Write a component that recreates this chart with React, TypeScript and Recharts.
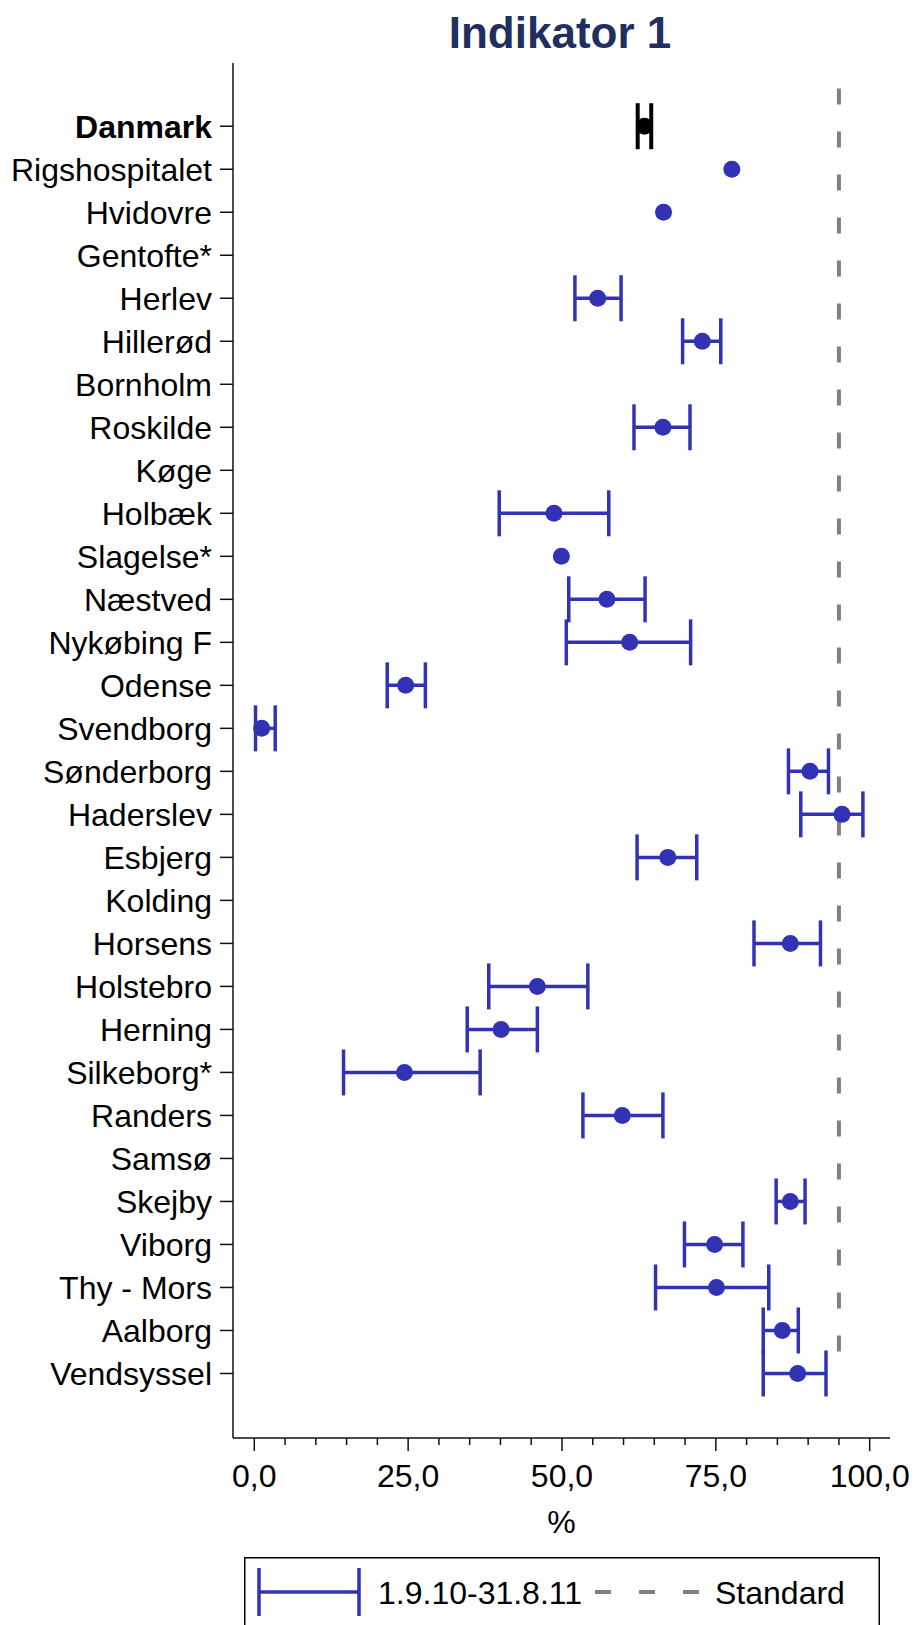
import { ComposedChart, Scatter, XAxis, YAxis, ErrorBar, ReferenceLine, Legend } from "recharts";

// Sygehuse, øverst til nederst (række 0 = landstal)
const hospitals = [
  "Danmark", "Rigshospitalet", "Hvidovre", "Gentofte*", "Herlev", "Hillerød",
  "Bornholm", "Roskilde", "Køge", "Holbæk", "Slagelse*", "Næstved",
  "Nykøbing F", "Odense", "Svendborg", "Sønderborg", "Haderslev", "Esbjerg",
  "Kolding", "Horsens", "Holstebro", "Herning", "Silkeborg*", "Randers",
  "Samsø", "Skejby", "Viborg", "Thy - Mors", "Aalborg", "Vendsyssel",
];

// Andel i %, null = ingen opgørelse
const estimates = [
  63.4, 77.6, 66.5, null, 55.8, 72.8, null, 66.4, null, 48.7, 49.9, 57.3,
  61.0, 24.6, 1.2, 90.3, 95.5, 67.2, null, 87.1, 46.0, 40.1, 24.4, 59.8,
  null, 87.1, 74.8, 75.1, 85.8, 88.3,
];
const lowerCI = [
  62.3, null, null, null, 52.1, 69.6, null, 61.7, null, 39.8, null, 51.1,
  50.7, 21.6, 0.2, 86.8, 88.8, 62.2, null, 81.2, 38.1, 34.6, 14.5, 53.4,
  null, 84.8, 69.9, 65.2, 82.7, 82.7,
];
const upperCI = [
  64.5, null, null, null, 59.6, 75.8, null, 70.8, null, 57.6, null, 63.5,
  70.9, 27.8, 3.4, 93.3, 98.9, 71.9, null, 92.0, 54.2, 46.0, 36.7, 66.4,
  null, 89.5, 79.4, 83.6, 88.4, 92.9,
];

const xTicks = [0, 5, 10, 15, 20, 25, 30, 35, 40, 45, 50, 55, 60, 65, 70, 75, 80, 85, 90, 95, 100];
const standard = 95;
const periodLabel = "1.9.10-31.8.11";
const standardLabel = "Standard";

const BLUE = "#3232B4";
const GREY = "#808080";
const FONT = "'Liberation Sans', Arial, Helvetica, sans-serif";

type Row = { name: string; y: number; x: number; err?: [number, number] };

const rows: Row[] = hospitals
  .map((name, i) => {
    const x = estimates[i];
    if (x == null) return null;
    const lo = lowerCI[i];
    const hi = upperCI[i];
    const err: [number, number] | undefined =
      lo != null && hi != null ? [x - lo, hi - x] : undefined;
    return { name, y: i, x, err };
  })
  .filter((r): r is Row => r !== null);

const national = rows.filter((r) => r.y === 0);
const withCI = rows.filter((r) => r.y > 0 && r.err);
const pointOnly = rows.filter((r) => r.y > 0 && !r.err);

const fmt = (v: number) => v.toFixed(1).replace(".", ",");

const XTick = (props: any) => {
  const { x, y, payload } = props;
  const major = payload.value % 25 === 0;
  return (
    <g>
      <line x1={x} x2={x} y1={y} y2={y + (major ? 13 : 7)} stroke="#111" strokeWidth={1.5} />
      {major && (
        <text x={x} y={y + 49} textAnchor="middle" fontSize={32} fontFamily={FONT} fill="#000">
          {fmt(payload.value)}
        </text>
      )}
    </g>
  );
};

const YTick = (props: any) => {
  const { x, y, payload } = props;
  const i = payload.value;
  return (
    <g>
      <line x1={x - 13} x2={x} y1={y} y2={y} stroke="#111" strokeWidth={1.5} />
      <text
        x={x - 21}
        y={y + 12}
        textAnchor="end"
        fontSize={32}
        fontFamily={FONT}
        fontWeight={i === 0 ? "bold" : "normal"}
        fill="#000"
      >
        {hospitals[i]}
      </text>
    </g>
  );
};

const dot = (color: string) => (props: any) => (
  <circle cx={props.cx} cy={props.cy} r={8.5} fill={color} />
);

const LegendBox = () => (
  <svg width={636} height={68} style={{ display: "block" }}>
    <rect x={0.75} y={0.75} width={634.5} height={90} fill="#fff" stroke="#000" strokeWidth={1.5} />
    <line x1={15} x2={15} y1={11} y2={59} stroke={BLUE} strokeWidth={3.5} />
    <line x1={115} x2={115} y1={11} y2={59} stroke={BLUE} strokeWidth={3.5} />
    <line x1={15} x2={115} y1={35} y2={35} stroke={BLUE} strokeWidth={3.5} />
    <text x={134} y={46.5} fontSize={32} fontFamily={FONT} fill="#000">{periodLabel}</text>
    <line x1={351} x2={455} y1={35} y2={35} stroke={GREY} strokeWidth={4} strokeDasharray="16 28" />
    <text x={471} y={46.5} fontSize={32} fontFamily={FONT} fill="#000">{standardLabel}</text>
  </svg>
);

export default function App() {
  return (
    <div style={{ position: "absolute", left: 0, top: 0, width: 914, height: 1625, overflow: "hidden", background: "#fff" }}>
      <svg width={914} height={70} style={{ position: "absolute", left: 0, top: 0 }}>
        <text x={560} y={48} textAnchor="middle" fontSize={44} fontWeight="bold" fontFamily={FONT} fill="#1F3060">
          Indikator 1
        </text>
      </svg>
      <ComposedChart width={914} height={1625} margin={{ top: 63, right: 24, left: 0, bottom: 0 }}>
        <XAxis
          type="number"
          dataKey="x"
          domain={[-3.46, 103.3]}
          ticks={xTicks}
          interval={0}
          allowDataOverflow
          height={187}
          tickSize={0}
          tickMargin={0}
          tickLine={false}
          tick={<XTick />}
          axisLine={{ stroke: "#111", strokeWidth: 1.5 }}
          label={(p: any) => {
            const vb = p.viewBox;
            return (
              <text x={vb.x + vb.width / 2} y={vb.y + 95} textAnchor="middle" fontSize={32} fontFamily={FONT} fill="#000">
                %
              </text>
            );
          }}
        />
        <YAxis
          type="number"
          dataKey="y"
          domain={[-1.47, 30.5]}
          reversed
          ticks={hospitals.map((_, i) => i)}
          interval={0}
          allowDataOverflow
          width={233}
          tickSize={0}
          tickMargin={0}
          tickLine={false}
          tick={<YTick />}
          axisLine={{ stroke: "#111", strokeWidth: 1.5 }}
        />
        <ReferenceLine
          segment={[{ x: standard, y: -0.88 }, { x: standard, y: 29.1 }]}
          stroke={GREY}
          strokeWidth={4}
          strokeDasharray="16 27"
        />
        <Scatter data={withCI} fill={BLUE} shape={dot(BLUE)} isAnimationActive={false}>
          <ErrorBar dataKey="err" direction="x" width={23} stroke={BLUE} strokeWidth={3.5} isAnimationActive={false} />
        </Scatter>
        <Scatter data={pointOnly} fill={BLUE} shape={dot(BLUE)} isAnimationActive={false} />
        <Scatter data={national} fill="#000" shape={dot("#000")} isAnimationActive={false}>
          <ErrorBar dataKey="err" direction="x" width={23} stroke="#000" strokeWidth={4} isAnimationActive={false} />
        </Scatter>
        <Legend
          layout="horizontal"
          verticalAlign="middle"
          align="center"
          wrapperStyle={{ left: 244, top: 1557, width: 636, height: 68 }}
          content={<LegendBox />}
        />
      </ComposedChart>
    </div>
  );
}
